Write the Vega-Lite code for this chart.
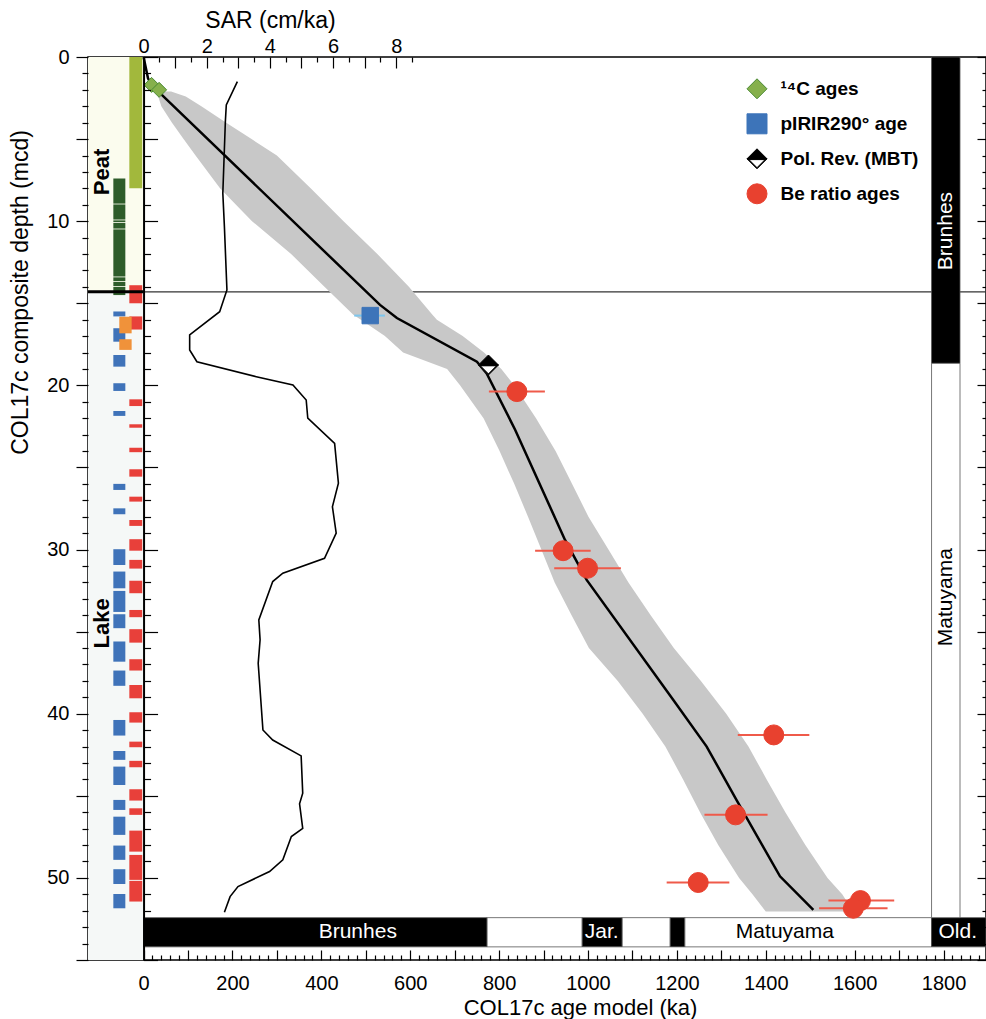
{
  "$schema": "https://vega.github.io/schema/vega-lite/v6.json",
  "width": 898,
  "height": 903,
  "autosize": {"type": "none"},
  "padding": {"left": 88, "top": 57, "right": 0, "bottom": 59},
  "background": "white",
  "config": {
    "font": "Liberation Sans",
    "view": {"stroke": "black", "strokeWidth": 1.5},
    "axis": {"labelFont": "Liberation Sans", "titleFont": "Liberation Sans", "labelColor": "black", "titleColor": "black", "tickColor": "black", "domainColor": "black", "titleFontWeight": "normal", "grid": false},
    "text": {"font": "Liberation Sans"}
  },
  "datasets": {
    "litho": [
      {"unit": "Peat", "top": 0, "bottom": 14.3},
      {"unit": "Lake", "top": 14.3, "bottom": 55}
    ],
    "boundary": [{"depth": 14.3}],
    "samples": [
      {"kind": "olive", "top": 0, "bottom": 8.0},
      {"kind": "dark", "top": 7.4, "bottom": 8.93},
      {"kind": "dark", "top": 8.98, "bottom": 9.9},
      {"kind": "dark", "top": 9.95, "bottom": 10.06},
      {"kind": "dark", "top": 10.11, "bottom": 10.45},
      {"kind": "dark", "top": 10.5, "bottom": 13.37},
      {"kind": "dark", "top": 13.42, "bottom": 13.65},
      {"kind": "dark", "top": 13.7, "bottom": 13.95},
      {"kind": "dark", "top": 14.0, "bottom": 14.5},
      {"kind": "blue", "top": 15.5, "bottom": 15.8},
      {"kind": "blue", "top": 16.52, "bottom": 17.34},
      {"kind": "blue", "top": 18.15, "bottom": 18.86},
      {"kind": "blue", "top": 19.87, "bottom": 20.34},
      {"kind": "blue", "top": 21.56, "bottom": 21.86},
      {"kind": "blue", "top": 26.0, "bottom": 26.37},
      {"kind": "blue", "top": 27.49, "bottom": 27.85},
      {"kind": "blue", "top": 29.98, "bottom": 30.94},
      {"kind": "blue", "top": 31.34, "bottom": 32.36},
      {"kind": "blue", "top": 32.52, "bottom": 33.8},
      {"kind": "blue", "top": 33.94, "bottom": 34.79},
      {"kind": "blue", "top": 35.6, "bottom": 36.83},
      {"kind": "blue", "top": 37.37, "bottom": 38.3},
      {"kind": "blue", "top": 40.38, "bottom": 41.33},
      {"kind": "blue", "top": 42.27, "bottom": 42.81},
      {"kind": "blue", "top": 43.22, "bottom": 44.34},
      {"kind": "blue", "top": 45.25, "bottom": 45.86},
      {"kind": "blue", "top": 46.27, "bottom": 47.38},
      {"kind": "blue", "top": 48.03, "bottom": 48.9},
      {"kind": "blue", "top": 49.47, "bottom": 50.37},
      {"kind": "blue", "top": 50.98, "bottom": 51.85},
      {"kind": "red", "top": 13.9, "bottom": 15.0},
      {"kind": "red", "top": 15.8, "bottom": 16.6},
      {"kind": "red", "top": 20.85, "bottom": 21.26},
      {"kind": "red", "top": 22.37, "bottom": 22.58},
      {"kind": "red", "top": 23.8, "bottom": 24.07},
      {"kind": "red", "top": 25.11, "bottom": 25.56},
      {"kind": "red", "top": 26.78, "bottom": 27.08},
      {"kind": "red", "top": 28.2, "bottom": 28.56},
      {"kind": "red", "top": 29.37, "bottom": 30.07},
      {"kind": "red", "top": 30.63, "bottom": 31.16},
      {"kind": "red", "top": 31.9, "bottom": 32.66},
      {"kind": "red", "top": 33.68, "bottom": 34.12},
      {"kind": "red", "top": 34.85, "bottom": 35.67},
      {"kind": "red", "top": 36.68, "bottom": 37.37},
      {"kind": "red", "top": 38.25, "bottom": 39.06},
      {"kind": "red", "top": 39.91, "bottom": 40.54},
      {"kind": "red", "top": 41.7, "bottom": 42.04},
      {"kind": "red", "top": 42.87, "bottom": 43.26},
      {"kind": "red", "top": 44.6, "bottom": 45.29},
      {"kind": "red", "top": 45.76, "bottom": 46.16},
      {"kind": "red", "top": 47.12, "bottom": 48.4},
      {"kind": "red", "top": 48.6, "bottom": 50.12},
      {"kind": "red", "top": 50.18, "bottom": 51.44},
      {"kind": "orange", "top": 15.82, "bottom": 16.83},
      {"kind": "orange", "top": 17.19, "bottom": 17.84}
    ],
    "band": [
      {"depth": 2.1, "lo": 40, "hi": 62},
      {"depth": 2.4, "lo": 33, "hi": 95},
      {"depth": 3, "lo": 40, "hi": 130},
      {"depth": 4, "lo": 64, "hi": 186},
      {"depth": 5, "lo": 90, "hi": 243},
      {"depth": 6, "lo": 117, "hi": 300},
      {"depth": 8, "lo": 172, "hi": 376},
      {"depth": 10, "lo": 244, "hi": 450},
      {"depth": 12, "lo": 332, "hi": 526},
      {"depth": 14, "lo": 407, "hi": 597},
      {"depth": 15.7, "lo": 472, "hi": 650},
      {"depth": 16, "lo": 489, "hi": 660},
      {"depth": 17, "lo": 543, "hi": 718},
      {"depth": 18, "lo": 584, "hi": 766},
      {"depth": 19, "lo": 683, "hi": 805},
      {"depth": 20, "lo": 712, "hi": 834},
      {"depth": 22, "lo": 765, "hi": 883},
      {"depth": 24, "lo": 801, "hi": 927},
      {"depth": 26, "lo": 834, "hi": 964},
      {"depth": 28, "lo": 865, "hi": 1001},
      {"depth": 30, "lo": 895, "hi": 1046},
      {"depth": 32, "lo": 925, "hi": 1091},
      {"depth": 34, "lo": 963, "hi": 1141},
      {"depth": 36, "lo": 1002, "hi": 1193},
      {"depth": 38, "lo": 1067, "hi": 1254},
      {"depth": 40, "lo": 1123, "hi": 1311},
      {"depth": 42, "lo": 1174, "hi": 1361},
      {"depth": 44, "lo": 1214, "hi": 1402},
      {"depth": 46, "lo": 1252, "hi": 1444},
      {"depth": 48, "lo": 1293, "hi": 1489},
      {"depth": 50, "lo": 1340, "hi": 1539},
      {"depth": 51, "lo": 1370, "hi": 1572},
      {"depth": 52.05, "lo": 1400, "hi": 1597}
    ],
    "model": [
      {"age": 0, "depth": 0},
      {"age": 10, "depth": 1.3},
      {"age": 18, "depth": 1.7},
      {"age": 35, "depth": 2.0},
      {"age": 37, "depth": 2.2},
      {"age": 532, "depth": 15.1},
      {"age": 570, "depth": 15.9},
      {"age": 750, "depth": 18.56},
      {"age": 772, "depth": 19.27},
      {"age": 836, "depth": 22.7},
      {"age": 948, "depth": 29.4},
      {"age": 997, "depth": 31.85},
      {"age": 1192, "depth": 39.16},
      {"age": 1267, "depth": 42.0},
      {"age": 1334, "depth": 45.25},
      {"age": 1432, "depth": 49.9},
      {"age": 1507, "depth": 51.95}
    ],
    "sar": [
      {"sar": 2.97, "depth": 1.5},
      {"sar": 2.62, "depth": 2.92},
      {"sar": 2.59, "depth": 3.94},
      {"sar": 2.51, "depth": 8.3},
      {"sar": 2.56, "depth": 10.33},
      {"sar": 2.64, "depth": 14.19},
      {"sar": 2.41, "depth": 15.51},
      {"sar": 1.46, "depth": 16.93},
      {"sar": 1.46, "depth": 17.84},
      {"sar": 1.69, "depth": 18.56},
      {"sar": 3.57, "depth": 19.47},
      {"sar": 4.73, "depth": 19.98},
      {"sar": 5.15, "depth": 20.89},
      {"sar": 5.2, "depth": 22.0},
      {"sar": 6.05, "depth": 23.53},
      {"sar": 6.17, "depth": 25.96},
      {"sar": 5.98, "depth": 27.39},
      {"sar": 6.1, "depth": 29.0},
      {"sar": 5.73, "depth": 30.53},
      {"sar": 4.41, "depth": 31.44},
      {"sar": 4.09, "depth": 31.95},
      {"sar": 3.65, "depth": 34.29},
      {"sar": 3.69, "depth": 35.5},
      {"sar": 3.63, "depth": 36.93},
      {"sar": 3.78, "depth": 40.99},
      {"sar": 4.09, "depth": 41.6},
      {"sar": 4.99, "depth": 42.57},
      {"sar": 5.04, "depth": 44.84},
      {"sar": 4.94, "depth": 45.49},
      {"sar": 5.04, "depth": 46.98},
      {"sar": 4.68, "depth": 47.48},
      {"sar": 4.41, "depth": 48.9},
      {"sar": 3.99, "depth": 49.61},
      {"sar": 2.99, "depth": 50.53},
      {"sar": 2.74, "depth": 51.14},
      {"sar": 2.56, "depth": 52.09}
    ],
    "dates": [
      {"type": "¹⁴C ages", "age": 18, "depth": 1.7},
      {"type": "¹⁴C ages", "age": 35, "depth": 2.0},
      {"type": "pIRIR290° age", "age": 510, "depth": 15.75, "lo": 474, "hi": 543},
      {"type": "Pol. Rev. (MBT)", "age": 776, "depth": 18.76},
      {"type": "Be ratio ages", "age": 840, "depth": 20.38, "lo": 777, "hi": 903},
      {"type": "Be ratio ages", "age": 944, "depth": 30.07, "lo": 881, "hi": 1006},
      {"type": "Be ratio ages", "age": 999, "depth": 31.14, "lo": 924, "hi": 1074},
      {"type": "Be ratio ages", "age": 1418, "depth": 41.29, "lo": 1337, "hi": 1498},
      {"type": "Be ratio ages", "age": 1332, "depth": 46.16, "lo": 1262, "hi": 1404},
      {"type": "Be ratio ages", "age": 1248, "depth": 50.28, "lo": 1177, "hi": 1318},
      {"type": "Be ratio ages", "age": 1613, "depth": 51.38, "lo": 1541, "hi": 1689},
      {"type": "Be ratio ages", "age": 1597, "depth": 51.85, "lo": 1520, "hi": 1674}
    ],
    "chronsAge": [
      {"start": 0, "end": 773, "pol": "normal"},
      {"start": 773, "end": 987, "pol": "reversed"},
      {"start": 987, "end": 1077, "pol": "normal"},
      {"start": 1077, "end": 1185, "pol": "reversed"},
      {"start": 1185, "end": 1218, "pol": "normal"},
      {"start": 1218, "end": 1773, "pol": "reversed"},
      {"start": 1773, "end": 1895.5, "pol": "normal"}
    ],
    "chronsDepth": [
      {"top": 0, "bottom": 18.66, "pol": "normal"},
      {"top": 18.66, "bottom": 52.42, "pol": "reversed"}
    ],
    "chronLabelsAge": [
      {"text": "Brunhes", "age": 482, "pol": "normal"},
      {"text": "Jar.", "age": 1031, "pol": "normal"},
      {"text": "Matuyama", "age": 1443, "pol": "reversed"},
      {"text": "Old.", "age": 1832, "pol": "normal"}
    ],
    "chronLabelsDepth": [
      {"text": "Brunhes", "depth": 10.6, "pol": "normal"},
      {"text": "Matuyama", "depth": 32.9, "pol": "reversed"}
    ],
    "unitLabels": [
      {"text": "Peat", "depth": 7.0},
      {"text": "Lake", "depth": 34.5}
    ]
  },
  "resolve": {
    "scale": {"x": "independent", "fill": "independent", "stroke": "independent", "shape": "independent"},
    "axis": {"x": "independent", "y": "independent"}
  },
  "layer": [
    {
      "data": {"name": "litho"},
      "mark": {"type": "rect"},
      "encoding": {
        "x": {"datum": -125, "type": "quantitative", "scale": {"domain": [-125, 1895.5], "nice": false, "zero": false},
          "axis": {"orient": "bottom", "values": [0,20,40,60,80,100,120,140,160,180,200,220,240,260,280,300,320,340,360,380,400,420,440,460,480,500,520,540,560,580,600,620,640,660,680,700,720,740,760,780,800,820,840,860,880,900,920,940,960,980,1000,1020,1040,1060,1080,1100,1120,1140,1160,1180,1200,1220,1240,1260,1280,1300,1320,1340,1360,1380,1400,1420,1440,1460,1480,1500,1520,1540,1560,1580,1600,1620,1640,1660,1680,1700,1720,1740,1760,1780,1800,1820,1840,1860,1880],
            "format": "d", "labelExpr": "datum.value % 200 === 0 ? datum.label : ''",
            "tickSize": {"condition": {"test": "datum.value % 100 === 0", "value": -10}, "value": -5},
            "tickWidth": 1.2, "labelPadding": 39, "labelBaseline": "alphabetic", "labelFontSize": 20,
            "labelOverlap": false, "labelBound": false, "labelFlush": false, "domain": false,
            "title": "COL17c age model (ka)", "titleFontSize": 22, "titleX": 492, "titleY": 54,
            "titleAlign": "center", "titleBaseline": "alphabetic", "zindex": 1}},
        "x2": {"datum": 0},
        "y": {"field": "top", "type": "quantitative", "scale": {"domain": [0, 55], "reverse": true, "nice": false, "zero": false},
          "axis": {"orient": "left", "values": [0,1,2,3,4,5,6,7,8,9,10,11,12,13,14,15,16,17,18,19,20,21,22,23,24,25,26,27,28,29,30,31,32,33,34,35,36,37,38,39,40,41,42,43,44,45,46,47,48,49,50,51,52,53,54,55],
            "format": "d", "labelExpr": "datum.value % 10 === 0 ? datum.label : ''",
            "tickSize": {"condition": {"test": "datum.value % 5 === 0", "value": 12}, "value": 6},
            "tickWidth": 1.2, "labelPadding": 7, "labelFontSize": 20,
            "labelOverlap": false, "labelBound": false, "labelFlush": false, "domain": false,
            "title": "COL17c composite depth (mcd)", "titleFontSize": 23, "titleX": -68, "titleY": 235,
            "titleAlign": "center", "titleBaseline": "middle", "titleAngle": 270, "zindex": 1}},
        "y2": {"field": "bottom"},
        "fill": {"field": "unit", "type": "nominal", "scale": {"domain": ["Peat", "Lake"], "range": ["#fbfcee", "#f5f8f7"]}, "legend": null}
      }
    },
    {
      "data": {"name": "samples"},
      "transform": [{"filter": {"field": "kind", "oneOf": ["olive", "red"]}}],
      "mark": {"type": "rect"},
      "encoding": {
        "x": {"datum": -32, "type": "quantitative", "scale": {"domain": [-125, 1895.5], "nice": false, "zero": false}, "axis": null},
        "x2": {"datum": -3},
        "y": {"field": "top", "type": "quantitative", "scale": {"domain": [0, 55], "reverse": true, "nice": false, "zero": false},
          "axis": {"orient": "right", "offset": -842.44, "values": [0,1,2,3,4,5,6,7,8,9,10,11,12,13,14,15,16,17,18,19,20,21,22,23,24,25,26,27,28,29,30,31,32,33,34,35,36,37,38,39,40,41,42,43,44,45,46,47,48,49,50,51,52,53,54,55],
            "tickSize": {"condition": {"test": "datum.value % 5 === 0", "value": 14}, "value": 7},
            "tickWidth": 1.2, "labels": false, "domain": true, "domainWidth": 2, "title": null, "zindex": 1}},
        "y2": {"field": "bottom"},
        "fill": {"field": "kind", "type": "nominal", "scale": {"domain": ["olive", "dark", "blue", "red", "orange"], "range": ["#a2b83c", "#2e5c2a", "#3f73b9", "#e8403a", "#f0923a"]}, "legend": null}
      }
    },
    {
      "data": {"name": "samples"},
      "transform": [{"filter": {"field": "kind", "oneOf": ["dark", "blue"]}}],
      "mark": {"type": "rect"},
      "encoding": {
        "x": {"datum": -68, "type": "quantitative", "scale": {"domain": [-125, 1895.5], "nice": false, "zero": false}, "axis": null},
        "x2": {"datum": -41},
        "y": {"field": "top", "type": "quantitative", "scale": {"domain": [0, 55], "reverse": true, "nice": false, "zero": false}, "axis": null},
        "y2": {"field": "bottom"},
        "fill": {"field": "kind", "type": "nominal", "scale": {"domain": ["olive", "dark", "blue", "red", "orange"], "range": ["#a2b83c", "#2e5c2a", "#3f73b9", "#e8403a", "#f0923a"]}, "legend": null}
      }
    },
    {
      "data": {"name": "samples"},
      "transform": [{"filter": {"field": "kind", "equal": "orange"}}],
      "mark": {"type": "rect"},
      "encoding": {
        "x": {"datum": -54.6, "type": "quantitative", "scale": {"domain": [-125, 1895.5], "nice": false, "zero": false}, "axis": null},
        "x2": {"datum": -26.8},
        "y": {"field": "top", "type": "quantitative", "scale": {"domain": [0, 55], "reverse": true, "nice": false, "zero": false}, "axis": null},
        "y2": {"field": "bottom"},
        "fill": {"field": "kind", "type": "nominal", "scale": {"domain": ["olive", "dark", "blue", "red", "orange"], "range": ["#a2b83c", "#2e5c2a", "#3f73b9", "#e8403a", "#f0923a"]}, "legend": null}
      }
    },
    {
      "data": {"name": "boundary"},
      "mark": {"type": "rule", "color": "#333333", "strokeWidth": 1.2},
      "encoding": {
        "y": {"field": "depth", "type": "quantitative", "scale": {"domain": [0, 55], "reverse": true, "nice": false, "zero": false}, "axis": null}
      }
    },
    {
      "data": {"name": "boundary"},
      "mark": {"type": "rule", "color": "black", "strokeWidth": 3},
      "encoding": {
        "x": {"datum": -125, "type": "quantitative", "scale": {"domain": [-125, 1895.5], "nice": false, "zero": false}, "axis": null},
        "x2": {"datum": 0},
        "y": {"field": "depth", "type": "quantitative", "scale": {"domain": [0, 55], "reverse": true, "nice": false, "zero": false}, "axis": null}
      }
    },
    {
      "data": {"name": "band"},
      "mark": {"type": "area", "orient": "horizontal", "color": "#c8c8c8"},
      "encoding": {
        "y": {"field": "depth", "type": "quantitative", "scale": {"domain": [0, 55], "reverse": true, "nice": false, "zero": false},
          "axis": {"orient": "left", "offset": -898, "values": [0,1,2,3,4,5,6,7,8,9,10,11,12,13,14,15,16,17,18,19,20,21,22,23,24,25,26,27,28,29,30,31,32,33,34,35,36,37,38,39,40,41,42,43,44,45,46,47,48,49,50,51,52,53,54,55],
            "tickSize": {"condition": {"test": "datum.value % 5 === 0", "value": 9}, "value": 4},
            "tickWidth": 1.2, "labels": false, "domain": false, "title": null, "zindex": 1}},
        "x": {"field": "lo", "type": "quantitative", "scale": {"domain": [-125, 1895.5], "nice": false, "zero": false}, "axis": null},
        "x2": {"field": "hi"}
      }
    },
    {
      "data": {"name": "model"},
      "mark": {"type": "line", "color": "black", "strokeWidth": 2.5},
      "encoding": {
        "x": {"field": "age", "type": "quantitative", "scale": {"domain": [-125, 1895.5], "nice": false, "zero": false}, "axis": null},
        "y": {"field": "depth", "type": "quantitative", "scale": {"domain": [0, 55], "reverse": true, "nice": false, "zero": false}, "axis": null},
        "order": {"field": "depth", "type": "quantitative"}
      }
    },
    {
      "data": {"name": "sar"},
      "mark": {"type": "line", "color": "black", "strokeWidth": 1.6},
      "encoding": {
        "x": {"field": "sar", "type": "quantitative", "scale": {"domain": [-1.7592, 26.676], "nice": false, "zero": false},
          "axis": {"orient": "top", "values": [0,0.25,0.5,0.75,1,1.25,1.5,1.75,2,2.25,2.5,2.75,3,3.25,3.5,3.75,4,4.25,4.5,4.75,5,5.25,5.5,5.75,6,6.25,6.5,6.75,7,7.25,7.5,7.75,8,8.25,8.5],
            "format": "d", "labelExpr": "datum.value % 2 === 0 ? datum.label : ''",
            "tickSize": {"condition": {"test": "datum.value % 1 === 0", "value": -11}, "value": -5},
            "tickWidth": 1.2, "labelPadding": 16, "labelBaseline": "alphabetic", "labelFontSize": 20,
            "labelOverlap": false, "labelBound": false, "labelFlush": false, "domain": false,
            "title": "SAR (cm/ka)", "titleFontSize": 23, "titleX": 182, "titleY": -30,
            "titleAlign": "center", "titleBaseline": "alphabetic", "zindex": 1}},
        "y": {"field": "depth", "type": "quantitative", "scale": {"domain": [0, 55], "reverse": true, "nice": false, "zero": false}, "axis": null},
        "order": {"field": "depth", "type": "quantitative"}
      }
    },
    {
      "data": {"name": "chronsAge"},
      "mark": {"type": "rect", "stroke": "#555555", "strokeWidth": 0.8},
      "encoding": {
        "x": {"field": "start", "type": "quantitative", "scale": {"domain": [-125, 1895.5], "nice": false, "zero": false}, "axis": null},
        "x2": {"field": "end"},
        "y": {"datum": 52.42, "type": "quantitative", "scale": {"domain": [0, 55], "reverse": true, "nice": false, "zero": false}, "axis": null},
        "y2": {"datum": 54.2},
        "fill": {"condition": {"test": "datum.pol === 'normal'", "value": "black"}, "value": "white"}
      }
    },
    {
      "data": {"name": "chronsDepth"},
      "mark": {"type": "rect", "stroke": "#555555", "strokeWidth": 0.8},
      "encoding": {
        "x": {"datum": 1773, "type": "quantitative", "scale": {"domain": [-125, 1895.5], "nice": false, "zero": false}, "axis": null},
        "x2": {"datum": 1837},
        "y": {"field": "top", "type": "quantitative", "scale": {"domain": [0, 55], "reverse": true, "nice": false, "zero": false}, "axis": null},
        "y2": {"field": "bottom"},
        "fill": {"condition": {"test": "datum.pol === 'normal'", "value": "black"}, "value": "white"}
      }
    },
    {
      "data": {"name": "chronLabelsAge"},
      "mark": {"type": "text", "fontSize": 21, "align": "center", "baseline": "middle"},
      "encoding": {
        "x": {"field": "age", "type": "quantitative", "scale": {"domain": [-125, 1895.5], "nice": false, "zero": false}, "axis": null},
        "y": {"datum": 53.31, "type": "quantitative", "scale": {"domain": [0, 55], "reverse": true, "nice": false, "zero": false}, "axis": null},
        "text": {"field": "text"},
        "fill": {"condition": {"test": "datum.pol === 'normal'", "value": "white"}, "value": "black"}
      }
    },
    {
      "data": {"name": "chronLabelsDepth"},
      "mark": {"type": "text", "fontSize": 21, "align": "center", "baseline": "middle", "angle": 270},
      "encoding": {
        "x": {"datum": 1805, "type": "quantitative", "scale": {"domain": [-125, 1895.5], "nice": false, "zero": false}, "axis": null},
        "y": {"field": "depth", "type": "quantitative", "scale": {"domain": [0, 55], "reverse": true, "nice": false, "zero": false}, "axis": null},
        "text": {"field": "text"},
        "fill": {"condition": {"test": "datum.pol === 'normal'", "value": "white"}, "value": "black"}
      }
    },
    {
      "data": {"name": "dates"},
      "transform": [{"filter": "isValid(datum.lo)"}],
      "mark": {"type": "rule", "strokeWidth": 2},
      "encoding": {
        "x": {"field": "lo", "type": "quantitative", "scale": {"domain": [-125, 1895.5], "nice": false, "zero": false}, "axis": null},
        "x2": {"field": "hi"},
        "y": {"field": "depth", "type": "quantitative", "scale": {"domain": [0, 55], "reverse": true, "nice": false, "zero": false}, "axis": null},
        "stroke": {"condition": {"test": "datum.type === 'Be ratio ages'", "value": "#ef5a4a"}, "value": "#7cc6ee"}
      }
    },
    {
      "data": {"name": "dates"},
      "transform": [{"filter": {"field": "type", "equal": "Pol. Rev. (MBT)"}}],
      "mark": {"type": "point", "shape": "diamond", "filled": true, "fill": "white", "size": 400, "strokeWidth": 0, "opacity": 1},
      "encoding": {
        "x": {"field": "age", "type": "quantitative", "scale": {"domain": [-125, 1895.5], "nice": false, "zero": false}, "axis": null},
        "y": {"field": "depth", "type": "quantitative", "scale": {"domain": [0, 55], "reverse": true, "nice": false, "zero": false}, "axis": null}
      }
    },
    {
      "data": {"name": "dates"},
      "mark": {"type": "point", "filled": true, "opacity": 1, "strokeWidth": 1},
      "encoding": {
        "x": {"field": "age", "type": "quantitative", "scale": {"domain": [-125, 1895.5], "nice": false, "zero": false}, "axis": null},
        "y": {"field": "depth", "type": "quantitative", "scale": {"domain": [0, 55], "reverse": true, "nice": false, "zero": false}, "axis": null},
        "shape": {"field": "type", "type": "nominal",
          "scale": {"domain": ["¹⁴C ages", "pIRIR290° age", "Pol. Rev. (MBT)", "Be ratio ages"], "range": ["diamond", "square", "M-1,0L0,-1L1,0Z M-1,0L1,0L0,1Z M-0.807,0.08L0,0.887L0.807,0.08Z", "circle"]},
          "legend": {"orient": "none", "legendX": 658.5, "legendY": 21.3, "title": null, "labelFontSize": 19, "labelFontWeight": "bold", "labelColor": "black", "labelFont": "Liberation Sans", "symbolSize": 400, "rowPadding": 10, "labelOffset": 13, "padding": 0, "symbolStrokeWidth": 1}},
        "fill": {"field": "type", "type": "nominal",
          "scale": {"domain": ["¹⁴C ages", "pIRIR290° age", "Pol. Rev. (MBT)", "Be ratio ages"], "range": ["#86b04c", "#3d74b9", "black", "#e8412f"]},
          "legend": {"orient": "none", "legendX": 658.5, "legendY": 21.3, "title": null, "labelFontSize": 19, "labelFontWeight": "bold", "labelColor": "black", "labelFont": "Liberation Sans", "symbolSize": 400, "rowPadding": 10, "labelOffset": 13, "padding": 0, "symbolStrokeWidth": 1}},
        "stroke": {"field": "type", "type": "nominal",
          "scale": {"domain": ["¹⁴C ages", "pIRIR290° age", "Pol. Rev. (MBT)", "Be ratio ages"], "range": ["#4a8a34", "#3d74b9", "black", "#e8412f"]},
          "legend": {"orient": "none", "legendX": 658.5, "legendY": 21.3, "title": null, "labelFontSize": 19, "labelFontWeight": "bold", "labelColor": "black", "labelFont": "Liberation Sans", "symbolSize": 400, "rowPadding": 10, "labelOffset": 13, "padding": 0, "symbolStrokeWidth": 1}},
        "size": {"condition": [{"test": "datum.type === '¹⁴C ages'", "value": 225}, {"test": "datum.type === 'pIRIR290° age'", "value": 270}], "value": 400}
      }
    },
    {
      "data": {"name": "unitLabels"},
      "mark": {"type": "text", "fontSize": 22, "fontWeight": "bold", "align": "center", "baseline": "middle", "angle": 270, "color": "black"},
      "encoding": {
        "x": {"datum": -93, "type": "quantitative", "scale": {"domain": [-125, 1895.5], "nice": false, "zero": false}, "axis": null},
        "y": {"field": "depth", "type": "quantitative", "scale": {"domain": [0, 55], "reverse": true, "nice": false, "zero": false}, "axis": null},
        "text": {"field": "text"}
      }
    }
  ]
}
